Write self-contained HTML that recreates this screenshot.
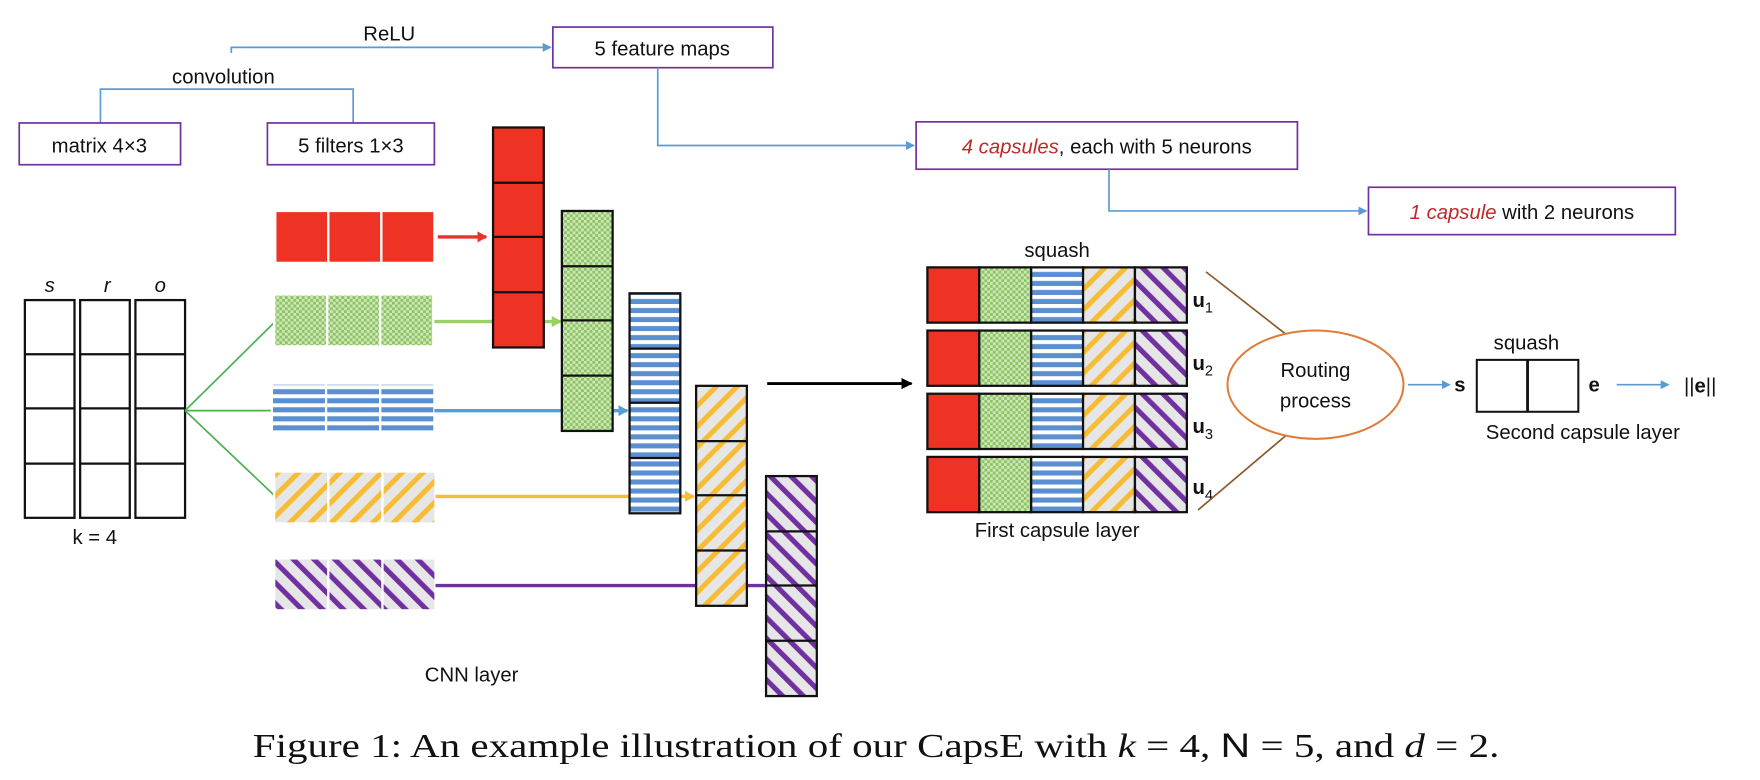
<!DOCTYPE html>
<html><head><meta charset="utf-8"><style>
html,body{margin:0;padding:0;background:#fff;}
svg{display:block;}
text{font-family:"Liberation Sans",sans-serif;fill:#111;}
</style></head><body>
<svg width="1760" height="780" viewBox="0 0 1560 691.4" xmlns="http://www.w3.org/2000/svg">
<defs>
<pattern id="pg" width="5" height="5" patternUnits="userSpaceOnUse">
<rect width="5" height="5" fill="#cfe6b8"/><rect width="2.5" height="2.5" fill="#8cc464"/><rect x="2.5" y="2.5" width="2.5" height="2.5" fill="#8cc464"/>
</pattern>
<pattern id="pb" width="8" height="8" patternUnits="userSpaceOnUse">
<rect width="8" height="8" fill="#fff"/><rect y="1" width="8" height="4.5" fill="#5b8fd0"/>
</pattern>
<pattern id="py" width="13" height="13" patternUnits="userSpaceOnUse" patternTransform="rotate(45)">
<rect width="13" height="13" fill="#e6e6e6"/><rect width="4.5" height="13" fill="#f6bc35"/>
</pattern>
<pattern id="pp" width="13" height="13" patternUnits="userSpaceOnUse" patternTransform="rotate(-45)">
<rect width="13" height="13" fill="#e6e6e6"/><rect width="4.5" height="13" fill="#7030a0"/>
</pattern>
<marker id="ab" markerWidth="8" markerHeight="8" refX="7" refY="4" orient="auto" markerUnits="userSpaceOnUse"><path d="M0,0 L8,4 L0,8z" fill="#5b9bd5"/></marker>
<marker id="ar" markerWidth="9" markerHeight="10" refX="8" refY="5" orient="auto" markerUnits="userSpaceOnUse"><path d="M0,0 L9,5 L0,10z" fill="#e8322a"/></marker>
<marker id="ag" markerWidth="9" markerHeight="10" refX="8" refY="5" orient="auto" markerUnits="userSpaceOnUse"><path d="M0,0 L9,5 L0,10z" fill="#9bd160"/></marker>
<marker id="abl" markerWidth="9" markerHeight="10" refX="8" refY="5" orient="auto" markerUnits="userSpaceOnUse"><path d="M0,0 L9,5 L0,10z" fill="#5b9bd5"/></marker>
<marker id="ay" markerWidth="9" markerHeight="10" refX="8" refY="5" orient="auto" markerUnits="userSpaceOnUse"><path d="M0,0 L9,5 L0,10z" fill="#f6bc35"/></marker>
<marker id="ak" markerWidth="10" markerHeight="10" refX="9" refY="5" orient="auto" markerUnits="userSpaceOnUse"><path d="M0,0 L10,5 L0,10z" fill="#000"/></marker>
</defs>

<text x="345" y="36" font-size="18" text-anchor="middle">ReLU</text>
<polyline points="205,47 205,42 488,42" fill="none" stroke="#5b9bd5" stroke-width="1.5" marker-end="url(#ab)"/>
<rect x="490" y="24" width="195" height="36" fill="#fff" stroke="#7030a0" stroke-width="1.5"/>
<text x="587" y="49" font-size="18" text-anchor="middle">5 feature maps</text>
<text x="198" y="74" font-size="18" text-anchor="middle">convolution</text>
<polyline points="89,109 89,79 313,79 313,109" fill="none" stroke="#5b9bd5" stroke-width="1.5"/>
<rect x="17" y="109" width="143" height="37" fill="#fff" stroke="#7030a0" stroke-width="1.5"/>
<text x="88" y="135" font-size="18" text-anchor="middle">matrix 4×3</text>
<rect x="237" y="109" width="148" height="37" fill="#fff" stroke="#7030a0" stroke-width="1.5"/>
<text x="311" y="135" font-size="18" text-anchor="middle">5 filters 1×3</text>
<polyline points="583,60 583,129 810,129" fill="none" stroke="#5b9bd5" stroke-width="1.5" marker-end="url(#ab)"/>
<rect x="812" y="108" width="338" height="42" fill="#fff" stroke="#7030a0" stroke-width="1.5"/>
<text x="981" y="136" font-size="18" text-anchor="middle"><tspan font-style="italic" style="fill:#c0282a">4 capsules</tspan>, each with 5 neurons</text>
<polyline points="983,150 983,187 1211,187" fill="none" stroke="#5b9bd5" stroke-width="1.5" marker-end="url(#ab)"/>
<rect x="1213" y="166" width="272" height="42" fill="#fff" stroke="#7030a0" stroke-width="1.5"/>
<text x="1349" y="194" font-size="18" text-anchor="middle"><tspan font-style="italic" style="fill:#c0282a">1 capsule</tspan> with 2 neurons</text>

<g fill="none" stroke="#111" stroke-width="2">
<rect x="22" y="266" width="44" height="193"/><rect x="71" y="266" width="44" height="193"/><rect x="120" y="266" width="44" height="193"/>
<path d="M22,314H66M71,314H115M120,314H164M22,362H66M71,362H115M120,362H164M22,411H66M71,411H115M120,411H164"/>
</g>
<text x="44" y="259" font-size="18" font-style="italic" text-anchor="middle">s</text>
<text x="95" y="259" font-size="18" font-style="italic" text-anchor="middle">r</text>
<text x="142" y="259" font-size="18" font-style="italic" text-anchor="middle">o</text>
<text x="84" y="482" font-size="18" text-anchor="middle">k = 4</text>
<g stroke="#4caf50" stroke-width="1.5"><line x1="164" y1="364" x2="244" y2="285"/><line x1="164" y1="364" x2="242" y2="364"/><line x1="164" y1="364" x2="244" y2="440"/></g>

<g stroke="#fff" stroke-width="2">
<rect x="244" y="187" width="47" height="46" fill="#ee3224"/><rect x="291" y="187" width="47" height="46" fill="#ee3224"/><rect x="338" y="187" width="47" height="46" fill="#ee3224"/>
<rect x="243" y="261" width="47" height="46" fill="url(#pg)"/><rect x="290" y="261" width="47" height="46" fill="url(#pg)"/><rect x="337" y="261" width="47" height="46" fill="url(#pg)"/>
<rect x="241" y="340" width="48" height="44" fill="url(#pb)"/><rect x="289" y="340" width="48" height="44" fill="url(#pb)"/><rect x="337" y="340" width="48" height="44" fill="url(#pb)"/>
<rect x="243" y="418" width="48" height="46" fill="url(#py)"/><rect x="291" y="418" width="48" height="46" fill="url(#py)"/><rect x="339" y="418" width="47" height="46" fill="url(#py)"/>
<rect x="243" y="495" width="48" height="46" fill="url(#pp)"/><rect x="291" y="495" width="48" height="46" fill="url(#pp)"/><rect x="339" y="495" width="47" height="46" fill="url(#pp)"/>
</g>

<line x1="388" y1="210" x2="431" y2="210" stroke="#e8322a" stroke-width="3" marker-end="url(#ar)"/>
<line x1="385" y1="285" x2="440" y2="285" stroke="#9bd160" stroke-width="3"/>
<line x1="482" y1="285" x2="497" y2="285" stroke="#9bd160" stroke-width="3" marker-end="url(#ag)"/>
<line x1="385" y1="364" x2="556" y2="364" stroke="#5b9bd5" stroke-width="3" marker-end="url(#abl)"/>
<line x1="386" y1="440" x2="615" y2="440" stroke="#f6bc35" stroke-width="3" marker-end="url(#ay)"/>
<line x1="386" y1="519" x2="678" y2="519" stroke="#7030a0" stroke-width="3"/>

<g stroke="#111" stroke-width="2">
<rect x="437" y="113" width="45" height="195" fill="#ee3224"/>
<path d="M437,162H482M437,210H482M437,259H482" fill="none"/>
<rect x="498" y="187" width="45" height="195" fill="url(#pg)"/>
<path d="M498,236H543M498,284H543M498,333H543" fill="none"/>
<rect x="558" y="260" width="45" height="195" fill="url(#pb)"/>
<path d="M558,309H603M558,357H603M558,406H603" fill="none"/>
<rect x="617" y="342" width="45" height="195" fill="url(#py)"/>
<path d="M617,391H662M617,439H662M617,488H662" fill="none"/>
<rect x="679" y="422" width="45" height="195" fill="url(#pp)"/>
<path d="M679,471H724M679,519H724M679,568H724" fill="none"/>
</g>
<text x="418" y="604" font-size="18" text-anchor="middle">CNN layer</text>

<line x1="680" y1="340" x2="808" y2="340" stroke="#000" stroke-width="2.5" marker-end="url(#ak)"/>

<text x="937" y="228" font-size="18" text-anchor="middle">squash</text>
<g stroke="#111" stroke-width="2">
<g id="row">
<rect x="822" y="237" width="46" height="49" fill="#ee3224"/>
<rect x="868" y="237" width="46" height="49" fill="url(#pg)"/>
<rect x="914" y="237" width="46" height="49" fill="url(#pb)"/>
<rect x="960" y="237" width="46" height="49" fill="url(#py)"/>
<rect x="1006" y="237" width="46" height="49" fill="url(#pp)"/>
</g>
<use href="#row" y="56"/><use href="#row" y="112"/><use href="#row" y="168"/>
</g>
<g font-size="18" font-weight="bold">
<text x="1057" y="272">u<tspan font-size="13" font-weight="normal" dy="5">1</tspan></text>
<text x="1057" y="328">u<tspan font-size="13" font-weight="normal" dy="5">2</tspan></text>
<text x="1057" y="384">u<tspan font-size="13" font-weight="normal" dy="5">3</tspan></text>
<text x="1057" y="438">u<tspan font-size="13" font-weight="normal" dy="5">4</tspan></text>
</g>
<text x="937" y="476" font-size="18" text-anchor="middle">First capsule layer</text>
<g stroke="#8b5a2b" stroke-width="1.5"><line x1="1069" y1="241" x2="1142" y2="298"/><line x1="1062" y1="452" x2="1141" y2="385"/></g>
<ellipse cx="1166" cy="341" rx="78" ry="48" fill="#fff" stroke="#e07b39" stroke-width="1.8"/>
<text x="1166" y="334" font-size="18" text-anchor="middle">Routing</text>
<text x="1166" y="361" font-size="18" text-anchor="middle">process</text>

<line x1="1248" y1="341" x2="1285" y2="341" stroke="#5b9bd5" stroke-width="1.5" marker-end="url(#ab)"/>
<text x="1294" y="347" font-size="18" font-weight="bold" text-anchor="middle">s</text>
<text x="1353" y="310" font-size="18" text-anchor="middle">squash</text>
<rect x="1309" y="319" width="90" height="46" fill="#fff" stroke="#111" stroke-width="1.8"/>
<line x1="1354" y1="319" x2="1354" y2="365" stroke="#111" stroke-width="2.5"/>
<text x="1413" y="347" font-size="18" font-weight="bold" text-anchor="middle">e</text>
<line x1="1433" y1="341" x2="1479" y2="341" stroke="#5b9bd5" stroke-width="1.5" marker-end="url(#ab)"/>
<text x="1507" y="348" font-size="18" text-anchor="middle">||<tspan font-weight="bold">e</tspan>||</text>
<text x="1403" y="389" font-size="18" text-anchor="middle">Second capsule layer</text>

<text x="224" y="671" font-size="30" textLength="1105" lengthAdjust="spacingAndGlyphs" style="font-family:'Liberation Serif',serif">Figure 1: An example illustration of our CapsE with <tspan font-style="italic">k</tspan> = 4, <tspan style="font-family:'Liberation Sans',sans-serif">N</tspan> = 5, and <tspan font-style="italic">d</tspan> = 2.</text>
</svg>
</body></html>
